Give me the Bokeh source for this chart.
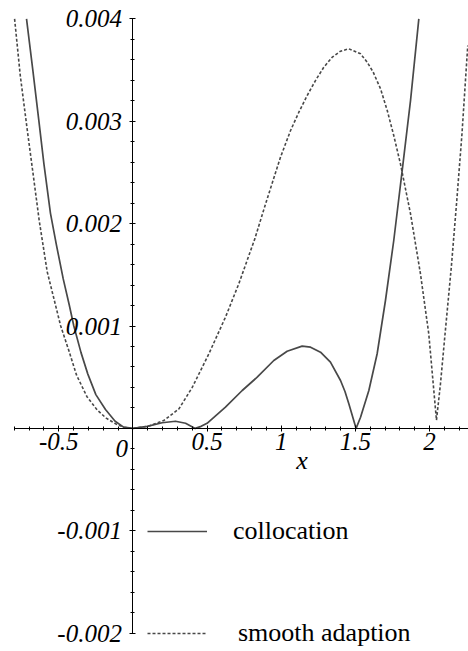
from bokeh.plotting import figure
from bokeh.models import (Range1d, FixedTicker, PrintfTickFormatter, Label,
                          Legend, LegendItem)
from bokeh.embed import file_html
from bokeh.resources import INLINE

# Absolute error of the collocation solution
colloc_x = [-0.7175, -0.675, -0.634, -0.600, -0.556, -0.517, -0.470, -0.430,
            -0.3985, -0.350, -0.304, -0.250, -0.185, -0.120, -0.063, 0.0,
            0.096, 0.197, 0.287, 0.355, 0.42, 0.46, 0.50, 0.624, 0.737,
            0.838, 0.950, 1.040, 1.141, 1.198, 1.265, 1.332, 1.400, 1.430,
            1.456, 1.505, 1.535, 1.591, 1.647, 1.703, 1.759, 1.816, 1.872,
            1.928]
colloc_y = [4.00e-3, 3.50e-3, 3.00e-3, 2.58e-3, 2.10e-3, 1.80e-3, 1.46e-3,
            1.21e-3, 1.00e-3, 0.74e-3, 0.53e-3, 0.33e-3, 0.185e-3, 0.07e-3,
            0.012e-3, 0.0, 0.019e-3, 0.055e-3, 0.070e-3, 0.050e-3, 0.0,
            0.020e-3, 0.050e-3, 0.207e-3, 0.370e-3, 0.500e-3, 0.663e-3,
            0.754e-3, 0.803e-3, 0.793e-3, 0.744e-3, 0.647e-3, 0.468e-3,
            0.360e-3, 0.240e-3, 0.0, 0.109e-3, 0.370e-3, 0.729e-3, 1.249e-3,
            1.835e-3, 2.519e-3, 3.202e-3, 4.00e-3]

# Absolute error of the smooth adaption
smooth_x = [-0.798, -0.760, -0.713, -0.670, -0.632, -0.578, -0.530, -0.488,
            -0.430, -0.380, -0.310, -0.241, -0.180, -0.117, -0.060, 0.0,
            0.100, 0.208, 0.31, 0.40, 0.512, 0.624, 0.714, 0.822, 0.894,
            0.995, 1.063, 1.119, 1.175, 1.231, 1.287, 1.344, 1.400, 1.456,
            1.535, 1.580, 1.620, 1.670, 1.715, 1.759, 1.804, 1.872, 1.939,
            1.995, 2.025, 2.047, 2.074, 2.105, 2.147, 2.184, 2.219, 2.258]
smooth_y = [4.00e-3, 3.45e-3, 2.92e-3, 2.45e-3, 2.03e-3, 1.53e-3, 1.25e-3,
            1.005e-3, 0.75e-3, 0.52e-3, 0.31e-3, 0.18e-3, 0.10e-3, 0.045e-3,
            0.011e-3, 0.0, 0.020e-3, 0.077e-3, 0.19e-3, 0.40e-3, 0.728e-3,
            1.086e-3, 1.412e-3, 1.851e-3, 2.190e-3, 2.648e-3, 2.909e-3,
            3.088e-3, 3.251e-3, 3.397e-3, 3.527e-3, 3.625e-3, 3.684e-3,
            3.707e-3, 3.658e-3, 3.576e-3, 3.480e-3, 3.316e-3, 3.105e-3,
            2.860e-3, 2.584e-3, 2.096e-3, 1.51e-3, 0.924e-3, 0.436e-3,
            0.08e-3, 0.436e-3, 0.924e-3, 1.574e-3, 2.226e-3, 2.877e-3,
            3.739e-3]

x_major = [-0.5, 0.5, 1.0, 1.5, 2.0]
x_minor = [-0.8, -0.7, -0.6, -0.5, -0.4, -0.3, -0.2, -0.1, 0.0, 0.1, 0.2, 0.3,
           0.4, 0.5, 0.6, 0.7, 0.8, 0.9, 1.0, 1.1, 1.2, 1.3, 1.4, 1.5, 1.6,
           1.7, 1.8, 1.9, 2.0, 2.1, 2.2]
y_major = [-0.002, -0.001, 0.001, 0.002, 0.003, 0.004]
y_minor = [-0.002, -0.0018, -0.0016, -0.0014, -0.0012, -0.001, -0.0008,
           -0.0006, -0.0004, -0.0002, 0.0, 0.0002, 0.0004, 0.0006, 0.0008,
           0.001, 0.0012, 0.0014, 0.0016, 0.0018, 0.002, 0.0022, 0.0024,
           0.0026, 0.0028, 0.003, 0.0032, 0.0034, 0.0036, 0.0038, 0.004]

SERIF = "Liberation Serif"
INK = "#484848"

p = figure(width=468, height=651, output_backend="svg", toolbar_location=None,
           x_range=Range1d(-0.893, 2.263), y_range=Range1d(-0.002179, 0.004179),
           min_border=0, outline_line_color=None)
p.xgrid.visible = False
p.ygrid.visible = False
p.background_fill_color = "white"
p.border_fill_color = "white"

# axes crossing at the origin
for ax in (p.xaxis[0], p.yaxis[0]):
    ax.fixed_location = 0
    ax.axis_line_color = "black"
    ax.axis_line_width = 1
    ax.major_tick_line_color = "black"
    ax.minor_tick_line_color = "black"
    ax.major_tick_in = 3
    ax.major_tick_out = 3
    ax.minor_tick_in = 2
    ax.minor_tick_out = 2
    ax.major_label_text_font = SERIF
    ax.major_label_text_font_style = "italic"
    ax.major_label_text_font_size = "25px"
    ax.major_label_text_color = "black"
    ax.formatter = PrintfTickFormatter(format="%g")

xa = p.xaxis[0]
xa.ticker = FixedTicker(ticks=x_major, minor_ticks=x_minor)
xa.bounds = (-0.8, 2.3)
xa.major_label_standoff = 2

ya = p.yaxis[0]
ya.ticker = FixedTicker(ticks=y_major, minor_ticks=y_minor)
ya.bounds = (-0.002, 0.004)
ya.major_label_standoff = 8

r_col = p.line(colloc_x, colloc_y, line_color=INK, line_width=1.7,
               line_join="round")
r_smo = p.line(smooth_x, smooth_y, line_color=INK, line_width=1.6,
               line_dash="3 2", line_join="round")

# origin tick label sits left of the vertical axis
p.add_layout(Label(x=0, y=0, text="0", x_offset=-5, y_offset=-20,
                   text_align="right", text_baseline="alphabetic",
                   text_font=SERIF, text_font_style="italic",
                   text_font_size="25px", text_color="black"))
# axis name
p.add_layout(Label(x=1.14, y=0, text="x", y_offset=-32,
                   text_align="center", text_baseline="alphabetic",
                   text_font=SERIF, text_font_style="italic",
                   text_font_size="26px", text_color="black"))


def key(renderer, label, loc, standoff):
    return Legend(items=[LegendItem(label=label, renderers=[renderer])],
                  location=loc, glyph_width=60, glyph_height=36,
                  label_height=36, label_standoff=standoff, padding=0,
                  margin=0, spacing=0, background_fill_alpha=0,
                  border_line_alpha=0, label_text_font=SERIF,
                  label_text_font_size="26px", label_text_color="black")


p.add_layout(key(r_col, "collocation", (147, 102), 26))
p.add_layout(key(r_smo, "smooth adaption", (147, 0), 31))

open("out.html", "w").write(file_html(p, INLINE))
